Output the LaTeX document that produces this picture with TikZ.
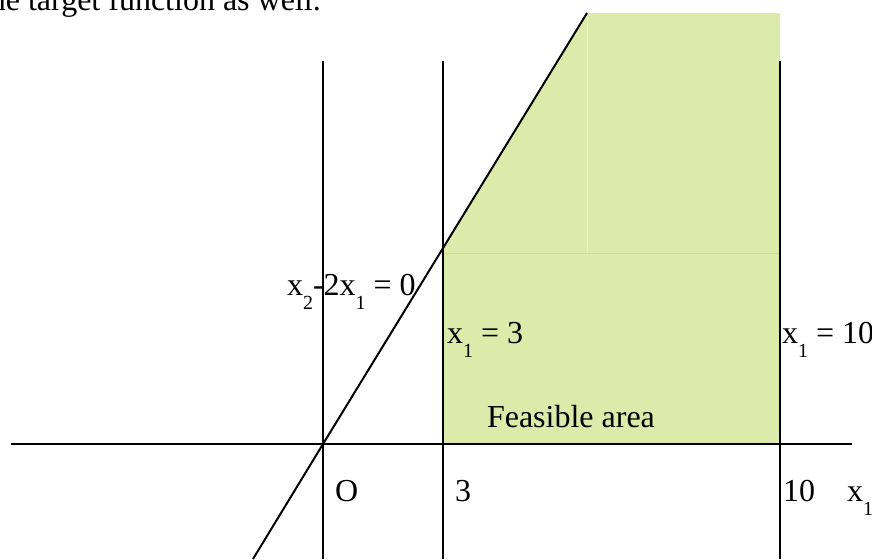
\documentclass[tikz,border=0pt]{standalone}
\usepackage{fontspec}
\setmainfont{Liberation Serif}
\usetikzlibrary{positioning}
\definecolor{feasgreen}{HTML}{DCEBA9}
\definecolor{seamlight}{HTML}{E8F3C4}
\definecolor{seamdark}{HTML}{C8DF8C}
\newcommand{\lowsub}[1]{\raisebox{-7pt}{\fontsize{10}{12}\selectfont #1}}

\begin{document}
\begin{tikzpicture}[
    x=0.5pt, y=-0.5pt,
    font=\fontsize{16}{19}\selectfont,
    line width=1pt,
    axis/.style={draw=black, line width=1pt},
    lbl/.style={anchor=base west, inner sep=0pt},
    seam/.style={line width=0.5pt},
  ]
  \useasboundingbox (0,0) rectangle (872,559);
  \clip (0,0) rectangle (872,559);

  % Cut-off line of the running text above.
  \node[lbl] (prose) at (-20,10) {the target function as well.};

  % Feasible region.
  \fill[feasgreen] (443,444) -- (780,444) -- (780,13) -- (587,13) -- (443,249) -- cycle;
  \draw[seam, seamlight] (587,13) -- (587,253);
  \draw[seam, seamdark] (443,253) -- (780,253);

  % Axes and constraint lines.
  \coordinate (O) at (323,444);
  \draw[axis] (11,444) -- (852,444);
  \draw[axis] (323,61) -- (323,559);
  \draw[axis] (443,61) -- (443,559);
  \draw[axis] (780,61) -- (780,559);
  \draw[axis] (253,559) -- (O) -- (587,13);

  % Labels.
  \node[lbl] (eqline) at (286,295) {x\lowsub{2}-2x\lowsub{1} = 0};
  \node[lbl] (eqthree) at (446,343) {x\lowsub{1} = 3};
  \node[lbl] (eqten) at (781,343) {x\lowsub{1} = 10};
  \node[lbl] (feas) at (486,427) {Feasible area};
  \node[lbl] (origin) at (334,501) {O};
  \node[lbl] (tick3) at (454,501) {3};
  \node[lbl] (tick10) at (782,501) {10};
  \node[lbl] (xlabel) at (846,501) {x\lowsub{1}};
\end{tikzpicture}
\end{document}
